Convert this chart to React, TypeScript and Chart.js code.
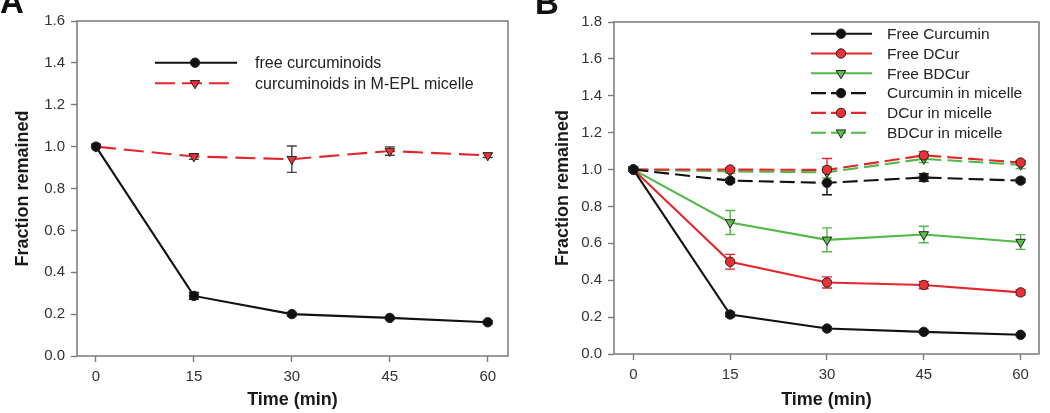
import React, { useEffect, useRef } from 'react';
import { Chart, registerables } from 'chart.js';

Chart.register(...registerables);

// ---------- data ----------
const timePoints = [0, 15, 30, 45, 60];
const xTickValues = [0, 15, 30, 45, 60];

// Panel A
const freeCurcuminoids = [1.0, 0.287, 0.2, 0.182, 0.161];
const freeCurcuminoidsErr = [0, 0.016, 0.008, 0.006, 0.006];
const micelleCurcuminoids = [1.0, 0.953, 0.94, 0.979, 0.958];
const micelleCurcuminoidsErr = [0, 0.013, 0.063, 0.02, 0.01];

// Panel B
const freeCurcumin = [1.0, 0.214, 0.138, 0.12, 0.104];
const freeCurcuminErr = [0, 0.012, 0.008, 0.008, 0.006];
const freeDCur = [1.0, 0.5, 0.388, 0.374, 0.334];
const freeDCurErr = [0, 0.04, 0.03, 0.02, 0.015];
const freeBDCur = [1.0, 0.713, 0.619, 0.648, 0.607];
const freeBDCurErr = [0, 0.065, 0.065, 0.045, 0.04];
const curcuminMicelle = [1.0, 0.94, 0.928, 0.957, 0.94];
const curcuminMicelleErr = [0, 0.01, 0.065, 0.02, 0.01];
const dcurMicelle = [1.0, 1.0, 0.998, 1.077, 1.038];
const dcurMicelleErr = [0, 0.01, 0.062, 0.02, 0.012];
const bdcurMicelle = [1.0, 0.99, 0.985, 1.058, 1.026];
const bdcurMicelleErr = [0, 0.01, 0.03, 0.02, 0.02];

const labelsA = ['free curcuminoids', 'curcuminoids in M-EPL micelle'];
const labelsB = [
  'Free Curcumin',
  'Free DCur',
  'Free BDCur',
  'Curcumin in micelle',
  'DCur in micelle',
  'BDCur in micelle',
];

// ---------- styles ----------
const FONT = "'Liberation Sans', Arial, sans-serif";
const BLACK = '#111111';
const RED = '#e3262b';
const RED_FILL = '#ec3036';
const GREEN = '#52b848';
const GREEN_FILL = '#5fbf4a';
const FRAME = '#7a7a7a';

function makeDataset(
  label: string,
  ys: number[],
  errs: number[],
  color: string,
  fill: string,
  style: string,
  dash: number[],
  errColor: string
) {
  const tri = style === 'triangle';
  return {
    label,
    data: timePoints.map((t, i) => ({ x: t, y: ys[i] })),
    errors: errs,
    errColor,
    markerStyle: style,
    borderColor: color,
    backgroundColor: fill,
    pointBackgroundColor: fill,
    pointBorderColor: '#222222',
    pointBorderWidth: 1,
    pointStyle: style,
    pointRadius: tri ? 5.5 : 4.7,
    pointRotation: tri ? 180 : 0,
    borderWidth: 2.1,
    borderDash: dash,
    tension: 0,
    fill: false,
  };
}

function drawMarker(ctx: CanvasRenderingContext2D, style: string, x: number, y: number, r: number, fill: string) {
  ctx.save();
  ctx.fillStyle = fill;
  ctx.strokeStyle = '#222222';
  ctx.lineWidth = 1;
  ctx.setLineDash([]);
  ctx.beginPath();
  if (style === 'triangle') {
    let rad = Math.PI;
    ctx.moveTo(x + Math.sin(rad) * r, y - Math.cos(rad) * r);
    rad += (2 * Math.PI) / 3;
    ctx.lineTo(x + Math.sin(rad) * r, y - Math.cos(rad) * r);
    rad += (2 * Math.PI) / 3;
    ctx.lineTo(x + Math.sin(rad) * r, y - Math.cos(rad) * r);
    ctx.closePath();
  } else {
    ctx.arc(x, y, r, 0, Math.PI * 2);
  }
  ctx.fill();
  ctx.stroke();
  ctx.restore();
}

interface LegendCfg {
  x0: number;
  x1: number;
  x1Dashed: number;
  mx: number;
  tx: number;
  y0: number;
  dy: number;
  fontSize: number;
  legendDash: number[];
}

interface PanelCfg {
  width: number;
  height: number;
  plotLeft: number;
  plotRight: number;
  plotTop: number;
  plotBottom: number;
  xMin: number;
  xMax: number;
  yMax: number;
  yTitlePad: number;
  letter: string;
  letterX: number;
  letterY: number;
  legend: LegendCfg;
  datasets: any[];
}

function buildChart(canvas: HTMLCanvasElement, cfg: PanelCfg) {
  const framePlugin = {
    id: 'frameAndErrors',
    beforeDatasetsDraw(chart: any) {
      const { ctx, chartArea, scales } = chart;
      const xs = scales.x;
      const ys = scales.y;
      ctx.save();
      ctx.strokeStyle = FRAME;
      ctx.lineWidth = 1.5;
      ctx.strokeRect(chartArea.left, chartArea.top, chartArea.right - chartArea.left, chartArea.bottom - chartArea.top);
      ctx.restore();
      chart.data.datasets.forEach((ds: any) => {
        ds.errors.forEach((e: number, i: number) => {
          if (!e) return;
          const p = ds.data[i];
          const px = xs.getPixelForValue(p.x);
          const pt = ys.getPixelForValue(p.y + e);
          const pb = ys.getPixelForValue(p.y - e);
          ctx.save();
          ctx.strokeStyle = ds.errColor;
          ctx.lineWidth = 1.4;
          ctx.setLineDash([]);
          ctx.beginPath();
          ctx.moveTo(px, pt);
          ctx.lineTo(px, pb);
          ctx.moveTo(px - 5, pt);
          ctx.lineTo(px + 5, pt);
          ctx.moveTo(px - 5, pb);
          ctx.lineTo(px + 5, pb);
          ctx.stroke();
          ctx.restore();
        });
      });
    },
  };

  const legendPlugin = {
    id: 'customLegend',
    afterDraw(chart: any) {
      const { ctx } = chart;
      const L = cfg.legend;
      chart.data.datasets.forEach((ds: any, i: number) => {
        const y = L.y0 + i * L.dy;
        const dashed = ds.borderDash && ds.borderDash.length > 0;
        ctx.save();
        ctx.strokeStyle = ds.borderColor;
        ctx.lineWidth = 2.1;
        ctx.setLineDash(dashed ? L.legendDash : []);
        ctx.beginPath();
        ctx.moveTo(L.x0, y);
        ctx.lineTo(dashed ? L.x1Dashed : L.x1, y);
        ctx.stroke();
        ctx.restore();
        drawMarker(ctx, ds.markerStyle, L.mx, y, ds.markerStyle === 'triangle' ? 5.5 : 4.7, ds.pointBackgroundColor);
        ctx.save();
        ctx.fillStyle = '#222222';
        ctx.font = `${L.fontSize}px ${FONT}`;
        ctx.textBaseline = 'middle';
        ctx.textAlign = 'left';
        ctx.fillText(ds.label, L.tx, y + 1);
        ctx.restore();
      });
      // panel letter
      ctx.save();
      ctx.fillStyle = '#111111';
      ctx.font = `bold 33px ${FONT}`;
      ctx.textBaseline = 'alphabetic';
      ctx.textAlign = 'left';
      ctx.fillText(cfg.letter, cfg.letterX, cfg.letterY);
      ctx.restore();
    },
  };

  const tickFont = { family: FONT, size: 15 };
  const titleFont = { family: FONT, size: 18, weight: 'bold' as const };

  return new Chart(canvas, {
    type: 'line',
    data: { datasets: cfg.datasets },
    options: {
      responsive: false,
      animation: false,
      layout: {
        padding: { left: 0, right: cfg.width - cfg.plotRight, top: cfg.plotTop, bottom: 0 },
      },
      plugins: {
        legend: { display: false },
        tooltip: { enabled: false },
      },
      scales: {
        x: {
          type: 'linear',
          min: cfg.xMin,
          max: cfg.xMax,
          afterBuildTicks: (s: any) => {
            s.ticks = xTickValues.map((v) => ({ value: v }));
          },
          afterFit: (s: any) => {
            s.height = cfg.height - cfg.plotBottom;
          },
          grid: {
            display: true,
            drawOnChartArea: false,
            drawTicks: true,
            tickLength: 6,
            tickColor: FRAME,
            tickWidth: 1.4,
          },
          border: { display: false },
          ticks: {
            font: tickFont,
            color: '#333333',
            padding: 6,
            maxRotation: 0,
            callback: (v: any) => String(v),
          },
          title: {
            display: true,
            text: 'Time (min)',
            font: titleFont,
            color: '#1a1a1a',
            padding: { top: 0, bottom: 2 },
          },
        },
        y: {
          type: 'linear',
          min: 0,
          max: cfg.yMax,
          afterFit: (s: any) => {
            s.width = cfg.plotLeft;
          },
          grid: {
            display: true,
            drawOnChartArea: false,
            drawTicks: true,
            tickLength: 6,
            tickColor: FRAME,
            tickWidth: 1.4,
          },
          border: { display: false },
          ticks: {
            stepSize: 0.2,
            font: tickFont,
            color: '#333333',
            padding: 6,
            callback: (v: any) => Number(v).toFixed(1),
          },
          title: {
            display: true,
            text: 'Fraction remained',
            font: titleFont,
            color: '#1a1a1a',
            padding: { top: cfg.yTitlePad, bottom: 0 },
          },
        },
      },
    } as any,
    plugins: [framePlugin, legendPlugin],
  });
}

const dashA = [20, 8];
const dashB = [15, 6];

const panelA: PanelCfg = {
  width: 520,
  height: 413,
  plotLeft: 77,
  plotRight: 508,
  plotTop: 21,
  plotBottom: 356,
  xMin: -2.9,
  xMax: 63.1,
  yMax: 1.6,
  yTitlePad: 12,
  letter: 'A',
  letterX: 0,
  letterY: 13,
  legend: { x0: 155, x1: 237, x1Dashed: 229, mx: 195, tx: 255, y0: 62.7, dy: 20.6, fontSize: 16, legendDash: [20, 7] },
  datasets: [
    makeDataset(labelsA[0], freeCurcuminoids, freeCurcuminoidsErr, BLACK, BLACK, 'circle', [], BLACK),
    makeDataset(labelsA[1], micelleCurcuminoids, micelleCurcuminoidsErr, RED, RED_FILL, 'triangle', dashA, '#444444'),
  ],
};

const panelB: PanelCfg = {
  width: 530,
  height: 413,
  plotLeft: 94,
  plotRight: 519,
  plotTop: 22,
  plotBottom: 354,
  xMin: -3.0,
  xMax: 62.85,
  yMax: 1.8,
  yTitlePad: 32,
  letter: 'B',
  letterX: 15,
  letterY: 14,
  legend: { x0: 291, x1: 352, x1Dashed: 346, mx: 321, tx: 367, y0: 33.7, dy: 19.8, fontSize: 15.5, legendDash: [15, 5] },
  datasets: [
    makeDataset(labelsB[0], freeCurcumin, freeCurcuminErr, BLACK, BLACK, 'circle', [], BLACK),
    makeDataset(labelsB[1], freeDCur, freeDCurErr, RED, RED_FILL, 'circle', [], RED),
    makeDataset(labelsB[2], freeBDCur, freeBDCurErr, GREEN, GREEN_FILL, 'triangle', [], GREEN),
    makeDataset(labelsB[3], curcuminMicelle, curcuminMicelleErr, BLACK, BLACK, 'circle', dashB, BLACK),
    makeDataset(labelsB[4], dcurMicelle, dcurMicelleErr, RED, RED_FILL, 'circle', dashB, RED),
    makeDataset(labelsB[5], bdcurMicelle, bdcurMicelleErr, GREEN, GREEN_FILL, 'triangle', dashB, GREEN),
  ],
};

function Panel({ cfg, left }: { cfg: PanelCfg; left: number }) {
  const ref = useRef<HTMLCanvasElement | null>(null);
  useEffect(() => {
    if (!ref.current) return;
    const chart = buildChart(ref.current, cfg);
    return () => chart.destroy();
  }, [cfg]);
  return (
    <canvas
      ref={ref}
      width={cfg.width}
      height={cfg.height}
      style={{ position: 'absolute', left, top: 0, width: cfg.width, height: cfg.height }}
    />
  );
}

export default function App() {
  return (
    <div
      style={{
        position: 'fixed',
        left: 0,
        top: 0,
        width: 1050,
        height: 413,
        background: '#ffffff',
        overflow: 'hidden',
      }}
    >
      <Panel cfg={panelA} left={0} />
      <Panel cfg={panelB} left={520} />
    </div>
  );
}
